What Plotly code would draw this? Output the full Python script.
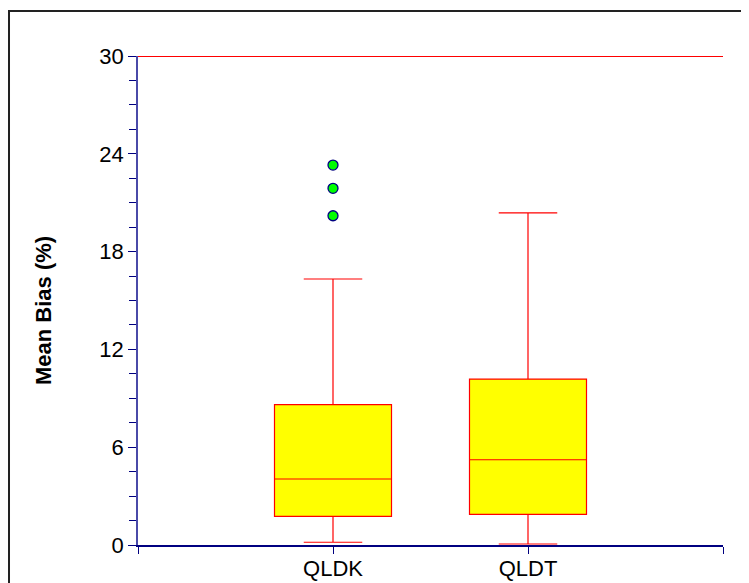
import plotly.graph_objects as go

categories = ["QLDK", "QLDT"]
q1 = [1.76, 1.88]
median = [4.05, 5.23]
q3 = [8.61, 10.18]
lower_whisker = [0.17, 0.06]
upper_whisker = [16.32, 20.37]
outlier_cat = ["QLDK", "QLDK", "QLDK"]
outlier_vals = [23.31, 21.88, 20.2]
ref_line = 30
y_ticks = [0, 6, 12, 18, 24, 30]
y_title = "<b>Mean Bias (%)</b>"

pos = {c: i + 1 for i, c in enumerate(categories)}

fig = go.Figure()
fig.add_trace(go.Box(
    x=[pos[c] for c in categories],
    q1=q1, median=median, q3=q3,
    lowerfence=lower_whisker, upperfence=upper_whisker,
    width=0.6, whiskerwidth=0.5,
    fillcolor="#FFFF00",
    line=dict(color="#FF0000", width=1.2),
    boxpoints=False, hoverinfo="skip", showlegend=False,
))
fig.add_trace(go.Scatter(
    x=[pos[c] for c in outlier_cat], y=outlier_vals, mode="markers",
    marker=dict(color="#00FF00", size=10, line=dict(color="#000080", width=1.3)),
    showlegend=False,
))

# reference line at top
fig.add_shape(type="line", xref="paper", yref="y", x0=0, x1=1, y0=ref_line, y1=ref_line,
              line=dict(color="#FF0000", width=2))
# outer frame
fig.add_shape(type="rect", xref="paper", yref="paper", x0=-0.2205, x1=1.2, y0=-0.2, y1=1.092,
              line=dict(color="#222222", width=2), fillcolor="rgba(0,0,0,0)", layer="below")

fig.add_annotation(text=y_title, xref="paper", yref="paper", x=-0.1607, y=0.4806,
                   textangle=-90, showarrow=False, xanchor="center", yanchor="middle",
                   font=dict(size=22, color="black"))

fig.update_layout(
    width=741, height=575,
    margin=dict(l=130, r=26, t=48, b=38, autoexpand=False),
    paper_bgcolor="white", plot_bgcolor="white",
    font=dict(family="Liberation Sans, Arial, sans-serif", color="black"),
    xaxis=dict(
        range=[0, len(categories) + 1],
        tickvals=list(range(len(categories) + 2)),
        ticktext=[""] + categories + [""],
        showline=True, linecolor="#000080", linewidth=1.5,
        ticks="outside", ticklen=7, tickcolor="#000080", tickwidth=1,
        showgrid=False, zeroline=False, tickfont=dict(size=22),
        ticklabelstandoff=-4,
        automargin=False,
    ),
    yaxis=dict(
        range=[0, 30], tickvals=y_ticks,
        showline=True, linecolor="#4a4aa8", linewidth=1.5,
        ticks="outside", ticklen=8, tickcolor="#000080", tickwidth=1,
        minor=dict(dtick=1.5, ticks="outside", ticklen=7, tickcolor="#000080", tickwidth=1),
        showgrid=False, zeroline=False, tickfont=dict(size=22),
        automargin=False,
    ),
)

fig.write_html("out.html")
